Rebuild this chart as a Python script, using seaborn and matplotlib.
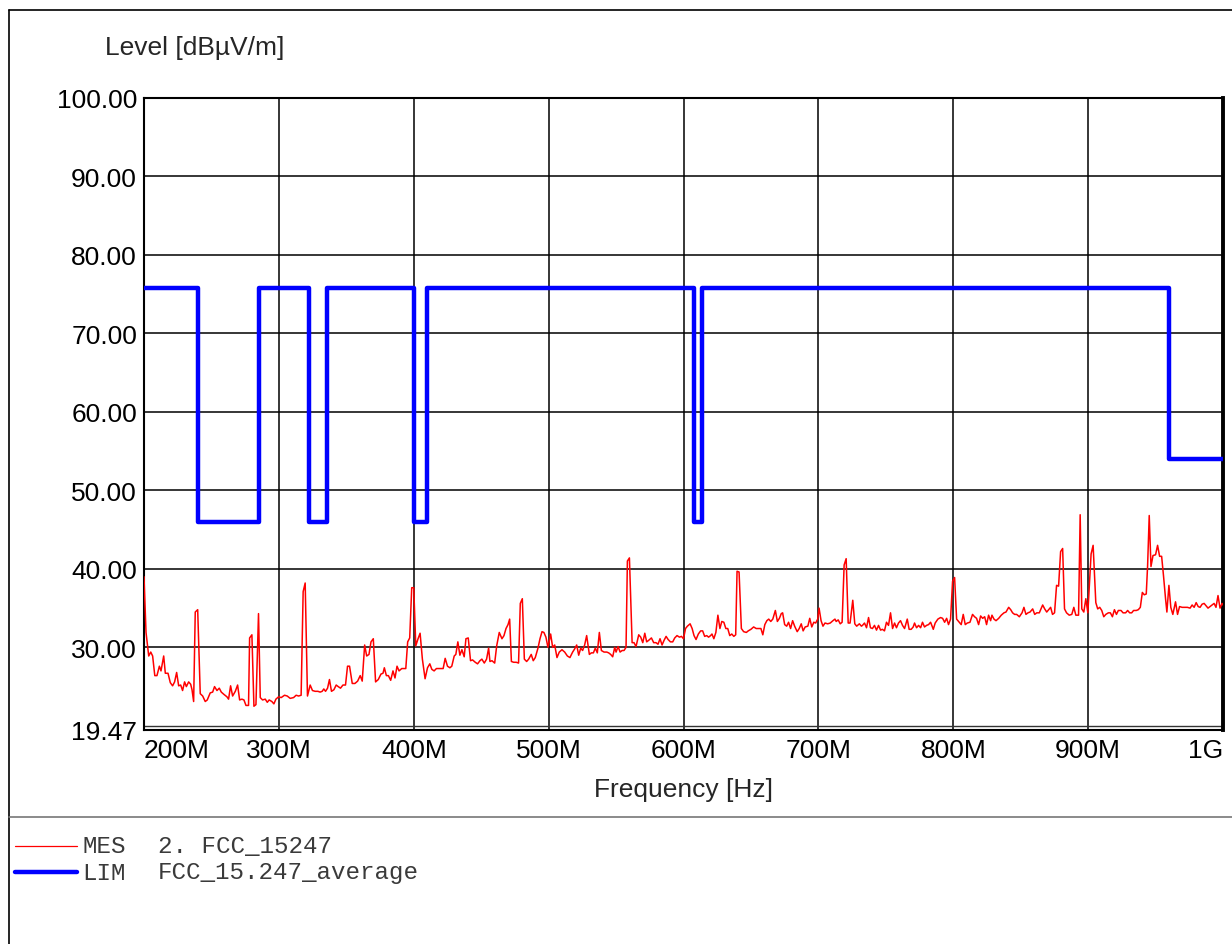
import matplotlib
matplotlib.use("Agg")
import matplotlib.pyplot as plt
from matplotlib.lines import Line2D
import seaborn as sns
import pandas as pd

# ---------------- data ----------------
mes_freq_mhz = [
    200.0, 201.5, 203.5, 205.0, 206.4, 208.0, 209.6, 211.4, 212.6, 214.6, 215.8, 217.8, 219.5, 221.2,
    222.7, 224.2, 225.7, 227.2, 228.6, 230.1, 231.4, 233.1, 234.6, 235.6, 236.8, 238.0, 239.8, 241.7,
    243.5, 245.4, 246.9, 249.1, 250.9, 252.3, 254.1, 255.8, 257.3, 259.3, 261.5, 262.7, 264.2, 265.7,
    267.7, 269.4, 270.9, 272.6, 274.1, 275.6, 277.5, 278.3, 280.0, 281.5, 283.0, 284.9, 286.2, 287.9,
    289.9, 291.4, 292.8, 294.8, 296.3, 297.8, 299.8, 301.7, 304.2, 306.2, 308.4, 310.9, 312.8, 314.6,
    316.5, 318.0, 319.5, 321.2, 323.2, 324.9, 326.9, 328.9, 330.6,
    332.1, 333.3, 334.6, 336.1, 337.5, 339.0, 340.8, 342.5, 344.0, 345.7, 347.5, 349.4, 350.9, 352.4,
    354.4, 356.4, 358.4, 360.3, 361.8, 363.6, 365.1, 366.8, 368.3, 370.0, 371.7, 373.7, 375.7, 377.2,
    378.2, 379.7, 381.2, 382.9, 384.6, 386.1, 387.6, 389.1, 391.1, 392.6, 394.1, 395.5, 397.0, 398.5,
    400.0, 401.5, 403.2, 404.7, 406.4, 408.4, 410.2, 411.9, 413.4, 415.1, 416.8, 418.8, 420.8, 421.8,
    423.3, 425.0, 426.8, 428.2, 430.0, 431.2, 432.7, 434.2, 435.7, 437.4, 438.7, 440.4, 442.1, 443.6,
    445.6, 447.3, 449.1, 450.5, 452.3, 454.0, 455.5, 456.5, 458.0, 460.0, 461.5, 463.4,
    465.4, 466.9, 468.4, 469.9, 471.1, 472.4, 474.1, 476.0, 477.7, 479.0, 480.5, 482.0, 483.7, 485.2,
    487.1, 488.6, 490.1, 492.1, 493.6, 495.1, 496.5, 498.0, 499.5, 501.5, 503.0, 504.5, 506.2, 507.9,
    509.9, 511.9, 513.9, 515.8, 517.8, 519.3, 520.8, 522.3, 523.8, 525.2, 526.7, 528.2, 530.2, 531.7,
    533.2, 534.6, 536.1, 537.6, 539.1, 541.1, 543.1, 544.5, 546.0, 547.5, 549.0, 550.0, 551.5, 553.0,
    554.5, 555.9, 557.4, 558.4, 559.9, 561.9, 563.3, 564.8, 566.8, 568.3, 569.8, 571.3, 572.7, 574.2,
    576.2, 577.9, 579.6, 581.1, 582.6, 584.1, 585.6, 587.1, 588.6, 590.3, 592.0, 593.5, 595.2, 597.0,
    598.5,
    600.0, 601.5, 602.9, 604.9, 606.4, 607.8, 609.3, 611.0, 612.7, 614.2, 615.7, 617.2, 618.6, 620.1,
    621.1, 622.5, 624.0, 625.5, 627.0, 628.4, 629.9, 631.4, 632.8, 634.3, 635.8, 637.3, 638.7, 639.7,
    641.2, 642.9, 644.6, 646.6, 648.0, 650.0, 652.0, 653.9, 655.9, 657.4, 658.8, 660.3, 661.8, 663.2,
    664.7, 666.2, 668.1, 669.6, 671.1, 672.5, 673.5, 675.0, 676.5, 677.9, 679.4, 680.9, 682.4, 684.3,
    685.8, 687.3, 688.7, 690.2, 692.2, 693.6, 695.1, 696.6, 698.0, 699.5, 700.5, 702.0, 703.4, 704.9,
    706.9, 708.8, 710.8, 712.3, 713.2, 714.7, 716.2, 717.6, 719.1, 720.6, 722.1, 723.5, 725.5, 727.0,
    728.4, 730.4, 731.9,
    732.7, 734.2, 735.7, 737.2, 738.6, 740.1, 741.6, 743.1, 744.6, 746.1, 747.5, 749.0, 750.5, 752.0,
    753.5, 755.0, 756.5, 757.9, 759.4, 760.9, 762.4, 763.9, 765.9, 767.3, 768.8, 770.3, 771.3, 772.8,
    774.3, 775.8, 777.2, 778.7, 780.2, 781.7, 783.2, 785.2, 786.6, 788.6, 790.6, 792.1, 793.6, 795.1,
    796.5, 798.0, 799.5, 801.0, 802.5, 804.5, 805.9, 807.4, 808.9, 810.4, 812.4, 814.3, 815.8, 817.3,
    818.8, 820.3, 821.8, 823.3, 824.7, 826.2, 827.7, 828.7, 830.2, 831.7, 833.7, 835.6, 837.6, 839.1,
    841.1, 842.6, 844.0, 845.5, 847.0, 849.0, 851.0, 852.4, 853.9, 855.4, 856.9, 858.9, 860.4, 861.9,
    863.8,
    866.3, 867.8, 869.3, 870.8, 872.2, 873.6, 875.1, 876.6, 878.1, 879.6, 881.1, 882.5, 884.0, 886.0,
    887.9, 889.4, 890.9, 892.9, 894.1, 895.3, 896.8, 898.3, 899.8, 901.2, 902.2, 903.7, 905.7, 907.1,
    908.6, 910.1, 911.6, 913.1, 915.0, 916.5, 918.0, 919.5, 921.0, 922.4, 924.4, 925.9, 927.8, 929.3,
    930.8, 932.3, 933.7, 935.7, 937.2, 938.7, 940.2, 941.6, 943.1, 944.1, 945.3, 946.6, 948.1, 950.0,
    951.5, 953.0, 954.5, 955.9, 957.4, 958.4, 959.9, 961.3, 962.8, 964.8, 966.3, 967.8, 969.7, 971.7,
    973.6, 975.6, 977.1, 978.6, 980.1, 981.6, 983.0, 984.5, 986.0, 987.5, 988.9, 990.4, 991.9, 993.4,
    994.8, 996.3, 997.8, 999.3, 1000.0,
]
mes_level = [
    39.0, 31.9, 28.9, 29.4, 28.9, 26.4, 26.4, 27.6, 27.0, 28.9, 26.7, 26.7, 25.5, 25.1,
    25.6, 26.8, 25.1, 25.2, 24.5, 25.6, 25.0, 25.6, 25.3, 24.6, 23.1, 34.5, 34.8, 24.1,
    23.8, 23.1, 23.3, 24.2, 24.3, 25.0, 24.5, 24.8, 24.3, 24.0, 23.7, 23.4, 25.1, 23.8,
    24.4, 25.2, 23.3, 23.4, 23.3, 22.6, 22.6, 31.2, 31.6, 22.5, 22.7, 34.3, 23.6, 23.3,
    23.4, 23.0, 23.3, 23.1, 22.8, 23.4, 23.7, 23.6, 23.9, 23.8, 23.5, 23.6, 23.9, 23.8,
    23.9, 37.1, 38.2, 23.8, 25.2, 24.5, 24.4, 24.4, 24.3,
    24.4, 24.7, 24.4, 24.8, 25.9, 24.4, 24.6, 25.2, 25.0, 24.8, 25.2, 25.2, 27.6, 27.6,
    25.4, 25.4, 25.7, 26.4, 25.7, 30.3, 28.9, 29.1, 30.7, 31.1, 25.6, 25.9, 26.6, 26.7,
    27.4, 26.4, 26.4, 25.8, 27.0, 26.1, 27.6, 27.0, 27.3, 27.3, 27.3, 30.7, 31.2, 37.6,
    37.6, 30.2, 31.1, 31.8, 28.5, 26.0, 27.4, 27.9, 27.2, 27.0, 27.3, 27.3, 27.3, 27.3,
    28.6, 27.6, 27.4, 27.6, 28.9, 29.1, 30.7, 29.0, 29.7, 28.8, 31.1, 31.2, 28.3, 28.4,
    28.1, 27.9, 28.3, 28.5, 28.0, 28.5, 29.9, 28.2, 28.3, 28.0, 30.2, 31.9,
    31.1, 31.5, 32.4, 32.9, 33.6, 28.2, 28.1, 28.1, 28.0, 35.6, 36.2, 28.5, 28.2, 28.5,
    29.1, 28.3, 28.7, 29.9, 31.1, 32.0, 31.9, 31.3, 30.0, 31.7, 30.0, 30.3, 28.7, 29.4,
    29.7, 29.4, 28.9, 28.7, 29.4, 29.8, 30.3, 29.0, 29.9, 29.6, 30.3, 31.5, 29.1, 29.3,
    29.3, 29.9, 29.3, 31.9, 29.6, 29.4, 29.4, 29.3, 29.1, 28.8, 30.0, 29.4, 30.1, 29.4,
    29.6, 29.6, 30.0, 41.0, 41.4, 30.6, 30.6, 30.1, 31.6, 31.3, 30.6, 31.8, 30.7, 30.9,
    31.2, 30.6, 30.6, 30.4, 31.1, 30.3, 30.9, 31.4, 31.0, 30.7, 30.7, 31.2, 31.5, 31.3,
    31.4,
    31.1, 32.4, 32.7, 33.0, 32.4, 31.5, 31.0, 31.7, 32.1, 32.1, 31.4, 31.5, 31.3, 31.5,
    31.7, 31.1, 31.9, 34.1, 32.4, 33.3, 33.2, 32.4, 32.4, 31.5, 31.7, 31.4, 31.6, 39.7,
    39.6, 32.4, 32.0, 31.9, 32.1, 32.3, 32.6, 32.4, 32.4, 32.4, 31.6, 32.9, 33.4, 33.6,
    33.3, 33.6, 34.7, 33.3, 33.7, 34.3, 34.4, 32.9, 32.7, 33.2, 32.4, 33.4, 32.7, 32.0,
    32.4, 33.0, 32.1, 32.6, 32.7, 33.7, 32.6, 33.2, 33.1, 33.6, 35.0, 33.4, 32.7, 33.1,
    33.0, 33.1, 33.4, 33.6, 33.3, 33.5, 33.0, 33.2, 40.5, 41.3, 33.1, 33.1, 36.0, 33.0,
    32.7, 33.0, 32.7,
    32.8, 33.1, 32.5, 33.8, 32.5, 32.4, 32.8, 32.2, 32.8, 32.2, 32.3, 32.1, 33.2, 32.8,
    34.4, 32.4, 33.1, 32.5, 33.1, 33.4, 32.8, 32.4, 33.6, 32.3, 32.3, 32.6, 33.1, 32.5,
    32.8, 32.5, 33.2, 32.6, 32.8, 32.9, 33.2, 32.3, 33.1, 33.6, 33.8, 33.7, 33.2, 33.7,
    32.9, 33.6, 38.4, 38.9, 33.6, 33.2, 32.9, 34.2, 32.9, 33.1, 33.2, 34.2, 33.9, 33.7,
    32.9, 34.0, 33.7, 33.9, 32.9, 34.1, 33.4, 34.1, 33.6, 33.4, 33.7, 34.1, 34.4, 34.5,
    35.1, 34.8, 34.4, 34.2, 34.2, 33.9, 34.4, 35.1, 34.2, 34.4, 34.5, 34.9, 34.2, 34.4,
    34.4,
    35.4, 34.9, 34.5, 34.8, 35.1, 34.2, 34.4, 37.9, 37.8, 42.2, 42.6, 34.9, 34.4, 34.1,
    34.2, 35.1, 34.1, 34.1, 46.9, 34.9, 34.5, 36.2, 34.4, 38.7, 41.9, 43.0, 35.7, 34.9,
    35.1, 34.7, 33.9, 34.2, 34.4, 34.4, 33.9, 34.8, 34.2, 34.7, 34.7, 34.4, 34.4, 34.7,
    34.4, 34.4, 34.7, 34.7, 34.8, 35.1, 37.0, 36.7, 36.8, 40.4, 46.8, 40.3, 41.7, 41.8,
    43.0, 41.6, 41.6, 39.1, 36.2, 34.5, 37.9, 35.1, 34.2, 35.8, 34.2, 35.2, 35.1, 35.1,
    35.1, 35.0, 35.4, 35.1, 35.7, 35.2, 35.1, 35.5, 35.6, 35.3, 35.0, 35.2, 35.4, 35.6,
    35.1, 36.6, 35.0, 35.6, 35.4,
]

lim_edges_mhz = [200, 240, 285, 322, 335.4, 399.9, 410, 608, 614, 960, 1000]
lim_level = [75.8, 46.0, 75.8, 46.0, 75.8, 46.0, 75.8, 46.0, 75.8, 54.0, 54.0]

x_ticks = [200, 300, 400, 500, 600, 700, 800, 900, 1000]
x_tick_labels = ["200M", "300M", "400M", "500M", "600M", "700M", "800M", "900M", "1G"]
y_ticks = [19.47, 30, 40, 50, 60, 70, 80, 90, 100]

legend_entries = [("MES", "2. FCC_15247"), ("LIM", "FCC_15.247_average")]

# ---------------- plot ----------------
sns.set_style("white")
plt.rcParams["font.family"] = ["Liberation Sans", "DejaVu Sans"]

W, H = 1232, 945
fig = plt.figure(figsize=(W / 100, H / 100), dpi=100)
ax_l, ax_r, ax_t, ax_b = 144, 1223, 99, 731
ax = fig.add_axes([ax_l / W, 1 - ax_b / H, (ax_r - ax_l) / W, (ax_b - ax_t) / H])

mes_df = pd.DataFrame({"freq": mes_freq_mhz, "level": mes_level})
lim_df = pd.DataFrame({"freq": lim_edges_mhz, "level": lim_level})

sns.lineplot(data=lim_df, x="freq", y="level", ax=ax, color="#0000ff", linewidth=3.2,
             drawstyle="steps-post", estimator=None, sort=False, zorder=3)
sns.lineplot(data=mes_df, x="freq", y="level", ax=ax, color="#ff0000", linewidth=1.1,
             estimator=None, sort=False, zorder=4)

ax.set_xlim(200, 1000)
ax.set_ylim(19.47, 100)
ax.set_xticks(x_ticks)
ax.set_xticklabels(x_tick_labels)
ax.set_yticks(y_ticks)
ax.set_yticklabels([f"{v:.2f}" for v in y_ticks])
ax.tick_params(axis="both", length=0, labelsize=19, colors="black")
ax.tick_params(axis="x", pad=6)
ax.tick_params(axis="y", pad=5)
xl = ax.get_xticklabels()
xl[0].set_horizontalalignment("left")
xl[-1].set_horizontalalignment("right")
ax.grid(True, color="black", linewidth=1.1)
ax.axhline(19.97, color="#333333", linewidth=1.0, zorder=2)
ax.set_xlabel("")
ax.set_ylabel("")
for s in ax.spines.values():
    s.set_color("black")
    s.set_linewidth(1.5)
ax.spines["right"].set_linewidth(2.8)

fig.text(105 / W, 1 - 48 / H, "Level [dBµV/m]", fontsize=19, ha="left", va="center")
fig.text(683 / W, 1 - 790 / H, "Frequency [Hz]", fontsize=19, ha="center", va="center")

# outer frame and separator
fig.add_artist(Line2D([9 / W, 9 / W], [0, 1 - 11 / H], transform=fig.transFigure,
                      color="black", linewidth=1.2))
fig.add_artist(Line2D([9 / W, 1], [1 - 11 / H, 1 - 11 / H], transform=fig.transFigure,
                      color="black", linewidth=1.2))
fig.add_artist(Line2D([9 / W, 1], [1 - 818 / H, 1 - 818 / H], transform=fig.transFigure,
                      color="#777777", linewidth=1.2))

# legend
leg_styles = [("#ff0000", 0.9), ("#0000ff", 3.2)]
mono = ["Liberation Mono", "DejaVu Sans Mono"]
for i, ((tag, name), (col, lw)) in enumerate(zip(legend_entries, leg_styles)):
    yy = 1 - (847 + 26 * i) / H
    fig.add_artist(Line2D([15 / W, 77 / W], [yy, yy], transform=fig.transFigure,
                          color=col, linewidth=lw, solid_capstyle="round"))
    fig.text(82 / W, yy, tag, fontsize=17.4, family=mono,
             color="#3a3a3a", ha="left", va="center")
    fig.text(158 / W, yy, name, fontsize=17.4, family=mono,
             color="#3a3a3a", ha="left", va="center")

fig.savefig("out.png", dpi=100, facecolor="white")
